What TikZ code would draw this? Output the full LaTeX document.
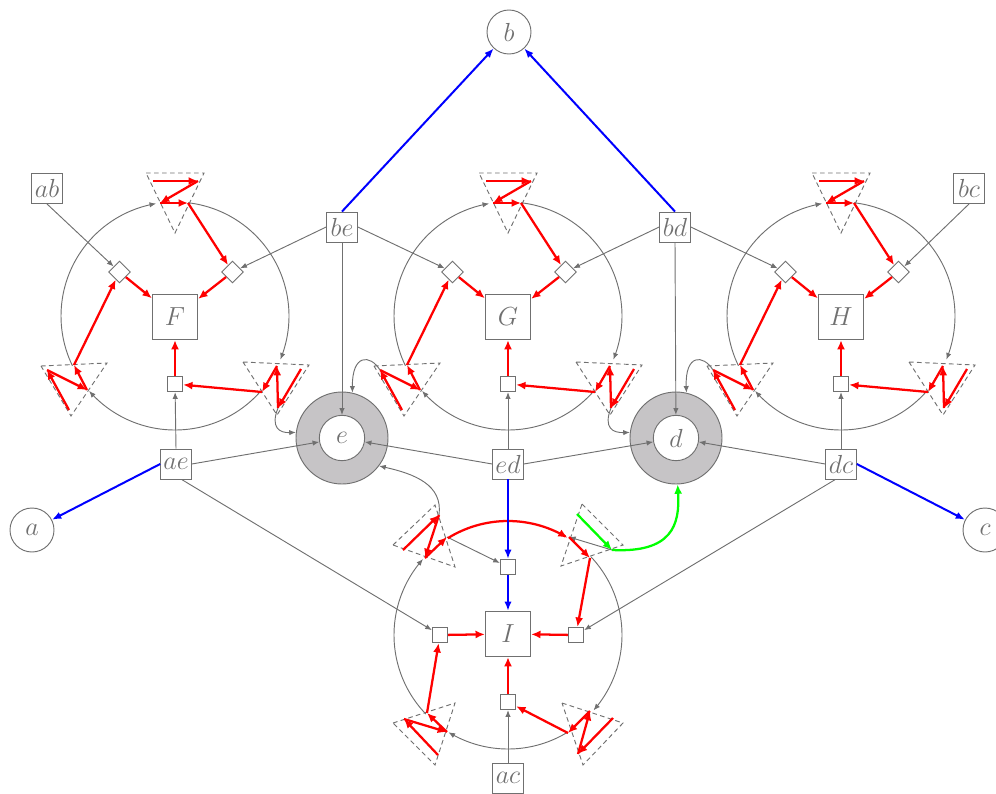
\RequirePackage{fix-cm}
\documentclass[tikz,border=0pt]{standalone}
\usetikzlibrary{arrows.meta,shapes.geometric}
\definecolor{lg}{RGB}{112,112,112}
\definecolor{ringfill}{RGB}{198,196,198}
\definecolor{grn}{RGB}{0,255,0}
\tikzset{
  fnt/.style={font=\fontsize{19.6}{23}\selectfont},
  lbl/.style={draw=lg, text=lg, fnt, minimum width=23pt, minimum height=22.5pt, inner sep=1pt, line width=0.7pt},
  bigsq/.style={draw=lg, text=lg, fnt, minimum size=34pt, inner sep=0pt, line width=0.7pt},
  smsq/.style={draw=lg, fill=white, minimum size=11.5pt, inner sep=0pt, line width=0.7pt},
  dia/.style={draw=lg, fill=white, diamond, minimum width=16.5pt, minimum height=16.5pt, inner sep=0pt, line width=0.7pt},
  cnode/.style={circle, draw=lg, text=lg, fnt, minimum size=33pt, inner sep=0pt, line width=0.7pt},
  ringnode/.style={circle, draw=lg, fill=ringfill, minimum size=69pt, inner sep=0pt, line width=0.7pt},
  innode/.style={circle, draw=lg, fill=white, text=lg, fnt, minimum size=34pt, inner sep=0pt, line width=0.7pt},
  garr/.style={draw=lg, line width=0.7pt, -{Latex[length=5pt,width=4pt]}},
  rarr/.style={draw=red, line width=1.7pt, -{Latex[length=7pt,width=6pt]}},
  barr/.style={draw=blue, line width=1.5pt, -{Latex[length=7pt,width=5.5pt]}},
  grarr/.style={draw=grn, line width=1.7pt, -{Latex[length=7pt,width=6pt]}},
  tri/.style={draw=lg, dash pattern=on 3.5pt off 2.5pt, line width=0.7pt},
}
\begin{document}
\begin{tikzpicture}[x=0.75pt,y=-0.75pt]
\useasboundingbox (0,0) rectangle (996,793);

% ---------- the three upper petals F, G, H ----------
\foreach \n/\dx in {F/0,G/333,H/666}{
\begin{scope}[shift={(\dx,0)}]
  \draw[garr] plot[domain=276.6:382.5,samples=50] ({175+114*cos(\x)},{316+114*sin(\x)});
  \draw[garr] plot[domain=41.1:138.9,samples=50] ({175+114*cos(\x)},{316+114*sin(\x)});
  \draw[garr] plot[domain=154.1:260.5,samples=50] ({175+114*cos(\x)},{316+114*sin(\x)});
  \draw[tri] (146,173) -- (204,173) -- (175,233) -- cycle;
  \draw[tri] (41,366) -- (107,363) -- (71,416) -- cycle;
  \draw[tri] (243,362) -- (309,365) -- (277,415) -- cycle;
  \coordinate (\n-T0) at (153,181); \coordinate (\n-T1) at (198,181);
  \coordinate (\n-Ten) at (160,203); \coordinate (\n-Tex) at (188,203);
  \coordinate (\n-L0) at (69,410); \coordinate (\n-L1) at (47,370);
  \coordinate (\n-Len) at (87,390); \coordinate (\n-Lex) at (74,365);
  \coordinate (\n-R0) at (301,369); \coordinate (\n-R1) at (278,408);
  \coordinate (\n-Ren) at (277,366); \coordinate (\n-Rex) at (262,392);
  \node[bigsq] (\n-sq) at (175,317) {$\n$};
  \node[dia] (\n-dl) at (119.5,272) {};
  \node[dia] (\n-dr) at (232.5,272) {};
  \node[smsq] (\n-s) at (175,384) {};
  \draw[rarr] (\n-T0) -- (\n-T1);
  \draw[rarr] (\n-T1) -- (\n-Ten);
  \draw[rarr] (\n-Ten) -- (\n-Tex);
  \draw[rarr] (\n-Tex) -- (\n-dr);
  \draw[rarr] (\n-L0) -- (\n-L1);
  \draw[rarr] (\n-L1) -- (\n-Len);
  \draw[rarr] (\n-Len) -- (\n-Lex);
  \draw[rarr] (\n-Lex) -- (\n-dl);
  \draw[rarr] (\n-R0) -- (\n-R1);
  \draw[rarr] (\n-R1) -- (\n-Ren);
  \draw[rarr] (\n-Ren) -- (\n-Rex);
  \draw[rarr] (\n-Rex) -- (\n-s);
  \draw[rarr] (\n-dl) -- (\n-sq);
  \draw[rarr] (\n-dr) -- (\n-sq);
  \draw[rarr] (\n-s) -- (\n-sq);
\end{scope}
}

% ---------- lower petal I ----------
\draw[garr] plot[domain=316.8:401.4,samples=50] ({508+114*cos(\x)},{635+114*sin(\x)});
\draw[garr] plot[domain=58.5:121.5,samples=40] ({508+114*cos(\x)},{635+114*sin(\x)});
\draw[garr] plot[domain=136.1:221.8,samples=50] ({508+114*cos(\x)},{635+114*sin(\x)});
\draw[tri] (393,545) -- (435,505) -- (455,567) -- cycle;
\draw[tri] (582,504) -- (623,545) -- (561,566) -- cycle;
\draw[tri] (562,703) -- (623,723) -- (583,765) -- cycle;
\draw[tri] (393,723) -- (455,703) -- (435,765) -- cycle;
\coordinate (TL0) at (403,550); \coordinate (TL1) at (439,515);
\coordinate (TLen) at (425,558); \coordinate (TLex) at (447,537);
\coordinate (TR0) at (577,514); \coordinate (TR1) at (612,550);
\coordinate (TRen) at (569,537); \coordinate (TRex) at (590,558);
\coordinate (BR0) at (613,718); \coordinate (BR1) at (578,754);
\coordinate (BRen) at (590,711); \coordinate (BRex) at (568,733);
\coordinate (BL0) at (438,755); \coordinate (BL1) at (404,719);
\coordinate (BLen) at (447,732); \coordinate (BLex) at (427,713);
\node[bigsq] (I) at (508,634) {$I$};
\node[smsq] (It) at (508,567) {};
\node[smsq] (Il) at (440,635) {};
\node[smsq] (Ir) at (576,635) {};
\node[smsq] (Ib) at (508,702) {};

% ---------- other nodes ----------
\node[ringnode] (ering) at (342,438) {};
\node[innode] (e) at (342,438) {$e$};
\node[ringnode] (dring) at (676,438) {};
\node[innode] (d) at (676,438) {$d$};
\node[cnode] (a) at (32,530) {$a$};
\node[cnode] (b) at (509,32) {$b$};
\node[cnode] (c) at (985,530) {$c$};
\node[lbl] (ab) at (47,188.5) {$ab$};
\node[lbl] (be) at (342,227) {$be$};
\node[lbl] (bd) at (675,227) {$bd$};
\node[lbl] (bc) at (969,188.5) {$bc$};
\node[lbl] (ae) at (176,464) {$ae$};
\node[lbl] (ed) at (508,464) {$ed$};
\node[lbl] (dc) at (841,464) {$dc$};
\node[lbl] (ac) at (508,778) {$ac$};

% ---------- gray connectors ----------
\draw[garr] (ab.south) -- (F-dl);
\draw[garr] (be.west) -- (F-dr);
\draw[garr] (be.east) -- (G-dl);
\draw[garr] (bd.west) -- (G-dr);
\draw[garr] (bd.east) -- (H-dl);
\draw[garr] (bc.south) -- (H-dr);
\draw[garr] (ae.north) -- (F-s);
\draw[garr] (ed.north) -- (G-s);
\draw[garr] (dc.north) -- (H-s);
\draw[garr] (be.south) -- (e);
\draw[garr] (bd.south) -- (d);
\draw[garr] (ae.east) -- (e);
\draw[garr] (ed.west) -- (e);
\draw[garr] (ed.east) -- (d);
\draw[garr] (dc.west) -- (d);
\draw[garr] (ae.-70) -- (Il);
\draw[garr] (dc.-110) -- (Ir);
\draw[garr] (ac.north) -- (Ib);
\draw[garr] (TLex) -- (It);
\draw[garr] (TR1) -- (TRen);
\draw[garr] (F-R1) .. controls (270,428) and (280,433) .. (ering.173);
\draw[garr] (G-L1) .. controls (370,354) and (352,354) .. (ering.77);
\draw[garr] (G-R1) .. controls (603,428) and (613,433) .. (dring.173);
\draw[garr] (H-L1) .. controls (703,354) and (685,354) .. (dring.77);
\draw[garr] (TL1) .. controls (443,485) and (415,474) .. (ering.-37);

% ---------- red in I ----------
\draw[rarr] plot[domain=238.1:301.5,samples=50] ({508+114*cos(\x)},{635+114*sin(\x)});
\draw[rarr] (TL0) -- (TL1);
\draw[rarr] (TL1) -- (TLen);
\draw[rarr] (TLen) -- (TLex);
\draw[rarr] (TRen) -- (TRex);
\draw[rarr] (TRex) -- (Ir);
\draw[rarr] (BR0) -- (BR1);
\draw[rarr] (BR1) -- (BRen);
\draw[rarr] (BRen) -- (BRex);
\draw[rarr] (BRex) -- (Ib);
\draw[rarr] (BL0) -- (BL1);
\draw[rarr] (BL1) -- (BLen);
\draw[rarr] (BLen) -- (BLex);
\draw[rarr] (BLex) -- (Il);
\draw[rarr] (Il) -- (I);
\draw[rarr] (Ir) -- (I);
\draw[rarr] (Ib) -- (I);

% ---------- blue and green ----------
\draw[barr] (be.north) -- (b);
\draw[barr] (bd.north) -- (b);
\draw[barr] (ae.west) -- (a);
\draw[barr] (dc.east) -- (c);
\draw[barr] (ed.south) -- (It);
\draw[barr] (It) -- (I);
\draw[grarr] (TR0) -- (TR1);
\draw[grarr] (TR1) .. controls (672,553) and (680,525) .. (dring.-88);
\end{tikzpicture}
\end{document}
